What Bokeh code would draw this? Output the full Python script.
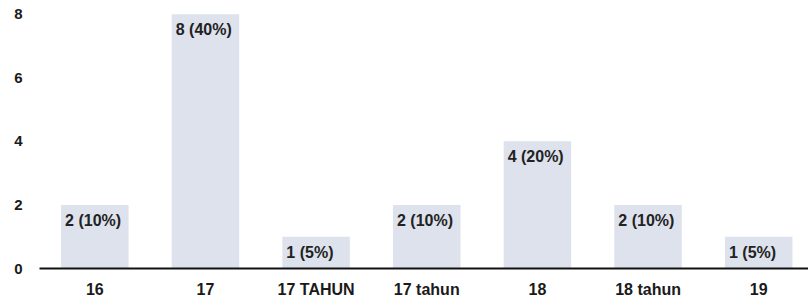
from bokeh.plotting import figure
from bokeh.models import Range1d, FixedTicker, ColumnDataSource
from bokeh.embed import file_html
from bokeh.resources import INLINE
from bokeh.core.properties import value

categories = ["16", "17", "17 TAHUN", "17 tahun", "18", "18 tahun", "19"]
counts = [2, 8, 1, 2, 4, 2, 1]
percents = [10, 40, 5, 10, 20, 10, 5]
y_ticks = [0, 2, 4, 6, 8]

BAR_W = 0.61
xs = [i + 0.5 for i in range(len(categories))]
labels = [f"{c} ({p}%)" for c, p in zip(counts, percents)]
src = ColumnDataSource(dict(x=xs, top=counts, left=[x - BAR_W / 2 for x in xs], label=labels))

p = figure(width=808, height=302, output_backend="svg", toolbar_location=None,
           x_range=Range1d(0, 6.95), y_range=Range1d(0, 8.18),
           min_border_left=39, min_border_right=0, min_border_top=8, min_border_bottom=34)
p.outline_line_color = None
p.grid.visible = False
p.background_fill_color = "white"
p.border_fill_color = "white"

p.vbar(x="x", top="top", width=BAR_W, bottom=0, source=src,
       fill_color="#dde2ed", line_color=None)
p.text(x="left", y="top", text="label", source=src, x_offset=4, y_offset=7,
       text_baseline="top", text_align="left", text_font=value("Liberation Sans"),
       text_font_size="16px", text_font_style="bold", text_color="#222222")

for ax in (p.xaxis[0], p.yaxis[0]):
    ax.major_tick_line_color = None
    ax.minor_tick_line_color = None
    ax.major_tick_out = 0
    ax.major_tick_in = 0
    ax.minor_tick_out = 0
    ax.minor_tick_in = 0
    ax.axis_label_standoff = 0
    ax.major_label_text_font = "Liberation Sans"
    ax.major_label_text_font_style = "bold"
    ax.major_label_text_color = "#1a1a1a"

xa = p.xaxis[0]
xa.ticker = FixedTicker(ticks=xs)
xa.major_label_overrides = {x: c for x, c in zip(xs, categories)}
xa.axis_line_color = "#111111"
xa.axis_line_width = 2
xa.major_label_standoff = 12
xa.major_label_text_font_size = "16px"

ya = p.yaxis[0]
ya.ticker = FixedTicker(ticks=y_ticks)
ya.axis_line_color = None
ya.major_label_standoff = 17
ya.major_label_text_font_size = "15px"

open("out.html", "w").write(file_html(p, INLINE))
